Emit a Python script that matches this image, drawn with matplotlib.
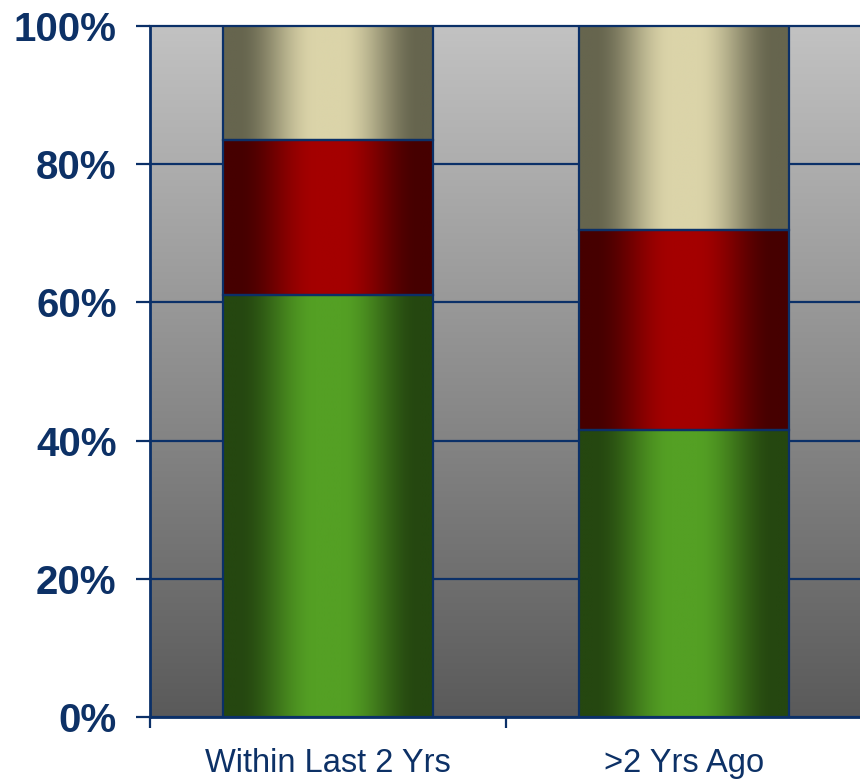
import numpy as np
import matplotlib
matplotlib.use("Agg")
import matplotlib.pyplot as plt
from matplotlib.colors import to_rgb

# Datos
categorias = ['Within Last 2 Yrs', '>2 Yrs Ago']
verde = [61.0, 41.5]
rojo = [22.5, 29.0]
beige = [16.5, 29.5]
yticks = [0, 20, 40, 60, 80, 100]
ytick_labels = ['0%', '20%', '40%', '60%', '80%', '100%']

navy = '#0b3068'
texto = '#0d3166'

# (color centro, color borde) de cada serie
series = [
    (verde, '#54a024', '#254710'),
    (rojo, '#a40000', '#460000'),
    (beige, '#dbd4a9', '#66654e'),
]

plt.rcParams['font.family'] = ['Liberation Sans', 'DejaVu Sans']

fig = plt.figure(figsize=(8.6, 7.79), dpi=100)
ax = fig.add_axes([150 / 860, 62 / 779, 712 / 860, 691 / 779])

# Fondo con degradado vertical
fondo = np.linspace(90, 194, 256)[:, None] / 255.0
fondo = np.dstack([fondo, fondo, fondo])
ax.imshow(fondo, extent=[0, 1, 0, 1], transform=ax.transAxes, origin='lower',
          aspect='auto', zorder=0, interpolation='bilinear')

x = np.arange(len(categorias))
ancho = 0.59


def perfil(n=200):
    f = np.linspace(0, 1, n)
    t = np.abs(f - 0.5)
    w = np.clip((t - 0.06) / (0.43 - 0.06), 0, 1)
    w = w * w * (3 - 2 * w)
    return 1 - w


base = np.zeros(len(categorias))
for valores, claro, oscuro in series:
    barras = ax.bar(x, valores, ancho, bottom=base, facecolor='none',
                    edgecolor=navy, linewidth=1.6, zorder=4)
    c1 = np.array(to_rgb(claro))
    c0 = np.array(to_rgb(oscuro))
    p = perfil()[None, :, None]
    img = c0 + (c1 - c0) * p
    for barra in barras:
        x0, y0 = barra.get_x(), barra.get_y()
        im = ax.imshow(img, extent=[x0, x0 + barra.get_width(), y0, y0 + barra.get_height()],
                       aspect='auto', zorder=3, interpolation='bilinear')
        im.set_clip_path(barra)
    base = base + np.array(valores)

ax.set_xlim(-0.5, 1.5)
ax.set_ylim(0, 100)

# Eje Y
ax.set_yticks(yticks)
ax.set_yticklabels(ytick_labels, fontsize=29, fontweight='bold', color=texto)
ax.tick_params(axis='y', direction='out', length=10, width=1.6, color=navy, pad=14)
ax.yaxis.grid(True, color=navy, linewidth=1.6, zorder=1)
ax.set_axisbelow(True)
for linea in ax.get_ygridlines():
    linea.set_clip_on(False)

# Eje X: marcas entre categorías, etiquetas en el centro
ax.set_xticks([-0.5, 0.5, 1.5])
ax.set_xticklabels([])
ax.set_xticks(x, minor=True)
ax.set_xticklabels(categorias, minor=True, fontsize=23.5, color=texto)
ax.tick_params(axis='x', which='major', direction='out', length=8, width=1.6, color=navy)
ax.tick_params(axis='x', which='minor', length=0, pad=22)

for lado in ['top', 'right']:
    ax.spines[lado].set_visible(False)
for lado in ['left', 'bottom']:
    ax.spines[lado].set_color(navy)
    ax.spines[lado].set_linewidth(2)
    ax.spines[lado].set_zorder(5)

plt.savefig('out.png', dpi=100)
